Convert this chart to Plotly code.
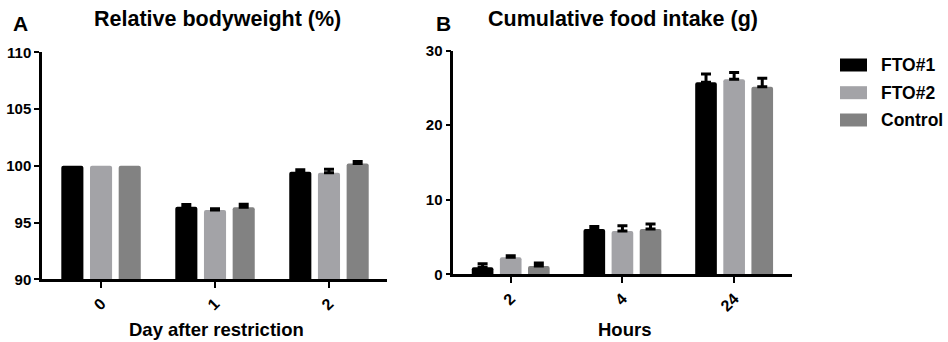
import plotly.graph_objects as go

series = ["FTO#1", "FTO#2", "Control"]
colors = ["#000000", "#a3a3a7", "#828282"]

days = ["0", "1", "2"]
bw_mean = {"FTO#1": [100.0, 96.4, 99.47], "FTO#2": [100.0, 96.1, 99.38], "Control": [100.0, 96.34, 100.2]}
bw_err = {"FTO#1": [None, 0.18, 0.18], "FTO#2": [None, 0.12, 0.32], "Control": [None, 0.28, 0.17]}

hours = ["2", "4", "24"]
food_mean = {"FTO#1": [0.94, 6.08, 25.76], "FTO#2": [2.28, 5.81, 26.16], "Control": [1.11, 6.08, 25.17]}
food_err = {"FTO#1": [0.48, 0.35, 1.1], "FTO#2": [0.22, 0.7, 0.9], "Control": [0.4, 0.68, 1.15]}

FONT = "Arial, Liberation Sans, sans-serif"
W, H = 948, 342


def err_array(vals):
    # missing errors become NaN so plotly.js draws no bar for them
    return ["NaN" if v is None else v for v in vals]


fig = go.Figure()
for s, c in zip(series, colors):
    fig.add_trace(go.Bar(
        x=days, y=bw_mean[s], name=s, marker=dict(color=c, line=dict(width=0), cornerradius=2),
        error_y=dict(type="data", array=err_array(bw_err[s]), symmetric=False,
                     color="#000000", thickness=3, width=5),
        xaxis="x", yaxis="y", showlegend=False))
for s, c in zip(series, colors):
    fig.add_trace(go.Bar(
        x=hours, y=food_mean[s], name=s, marker=dict(color=c, line=dict(width=0), cornerradius=2),
        error_y=dict(type="data", array=err_array(food_err[s]), symmetric=False,
                     color="#000000", thickness=3, width=5),
        xaxis="x2", yaxis="y2", showlegend=False))

axis_common = dict(showline=True, linecolor="black", linewidth=2.5, showgrid=False, zeroline=False,
                   automargin=False, ticks="outside", tickcolor="black", tickwidth=2,
                   tickfont=dict(family=FONT, size=15, color="black", weight="bold"))

def px_x(p):
    return p / W

def px_y(p):
    return 1 - p / H

fig.update_layout(
    width=W, height=H, margin=dict(l=0, r=0, t=0, b=0, pad=0),
    paper_bgcolor="white", plot_bgcolor="white",
    barmode="group", bargap=0.245, bargroupgap=0.23,
    xaxis=dict(axis_common, domain=[px_x(42), px_x(387)], type="category",
               range=[-0.518, 2.509], tickangle=-45, ticklen=6, anchor="y",
               tickfont=dict(family=FONT, size=16, color="black", weight="bold")),
    yaxis=dict(axis_common, domain=[px_y(279.3), px_y(52.3)], range=[90, 110],
               tickvals=[90, 95, 100, 105, 110], ticklen=5, anchor="x"),
    xaxis2=dict(axis_common, domain=[px_x(453.3), px_x(792)], type="category",
                range=[-0.514, 2.518], tickangle=-45, ticklen=6, anchor="y2",
                tickfont=dict(family=FONT, size=16, color="black", weight="bold")),
    yaxis2=dict(axis_common, domain=[px_y(274.3), px_y(50.7)], range=[0, 30],
                tickvals=[0, 10, 20, 30], ticklen=5, anchor="x2"),
)

def ann(text, x, y, size, xanchor="center"):
    fig.add_annotation(text=text, x=px_x(x), y=px_y(y), xref="paper", yref="paper",
                       xanchor=xanchor, yanchor="middle", showarrow=False,
                       font=dict(family=FONT, size=size, color="black", weight="bold"))

ann("A", 11, 23, 21, "left")
ann("B", 434, 23, 21, "left")
ann("Relative bodyweight (%)", 217, 19, 21.5)
ann("Cumulative food intake (g)", 623, 19, 21.5)
ann("Day after restriction", 216, 329, 18.5)
ann("Hours", 624, 329, 18.5)

leg_y = [65, 92.7, 120]
for s, c, yc in zip(series, colors, leg_y):
    fig.add_shape(type="rect", xref="paper", yref="paper",
                  x0=px_x(840), x1=px_x(867), y0=px_y(yc + 6.5), y1=px_y(yc - 6.5),
                  fillcolor=c, line=dict(width=0))
    ann(s, 879, yc, 17.5, "left")

fig.write_html(
    "out.html",
    config={"displayModeBar": False},
    post_script="document.body.style.margin='0';document.body.style.overflow='hidden';",
)
